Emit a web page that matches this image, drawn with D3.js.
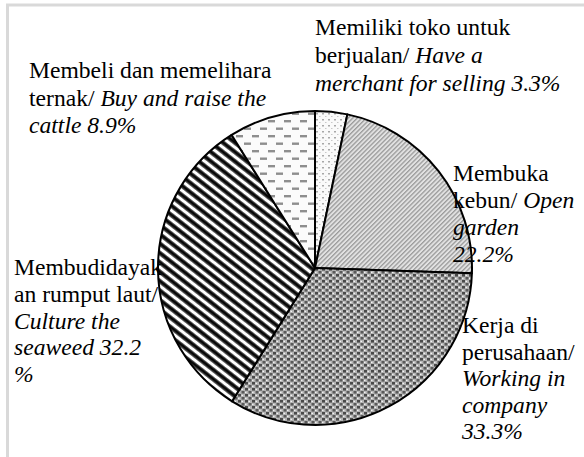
<!DOCTYPE html>
<html>
<head>
<meta charset="utf-8">
<script src="https://cdn.jsdelivr.net/npm/d3@7/dist/d3.min.js"></script>
<style>
  body { margin: 0; background: #fff; }
  svg { display: block; }
</style>
</head>
<body>
<script>
// slices clockwise from 12 o'clock
const categories = ["toko", "kebun", "kerja", "rumput", "ternak"];
const values = [3.3, 22.2, 33.3, 32.2, 8.9];
// label lines: [normal part, italic part]
const labelToko = [["Memiliki toko untuk", ""], ["berjualan/ ", "Have a"], ["", "merchant for selling 3.3%"]];
const labelKebun = [["Membuka", ""], ["kebun/ ", "Open"], ["", "garden"], ["", "22.2%"]];
const labelKerja = [["Kerja di", ""], ["perusahaan/", ""], ["", "Working in"], ["", "company"], ["", "33.3%"]];
const labelRumput = [["Membudidayak", ""], ["an rumput laut/", ""], ["", "Culture the"], ["", "seaweed 32.2"], ["", "%"]];
const labelTernak = [["Membeli dan memelihara", ""], ["ternak/ ", "Buy and raise the"], ["", "cattle 8.9%"]];

const width = 584, height = 457;
const cx = 315, cy = 268, radius = 157;
const serif = "'Liberation Serif', 'Times New Roman', Times, serif";

const svg = d3.select("body").append("svg")
    .attr("width", width)
    .attr("height", height);

svg.append("rect").attr("width", width).attr("height", height).attr("fill", "#fff");

// faint frame on top and left
svg.append("line").attr("x1", 6).attr("y1", 5).attr("x2", width).attr("y2", 5)
    .attr("stroke", "#d9d9d9").attr("stroke-width", 3);
svg.append("line").attr("x1", 7.5).attr("y1", 5).attr("x2", 7.5).attr("y2", height)
    .attr("stroke", "#d9d9d9").attr("stroke-width", 3);

const defs = svg.append("defs");

// dotted (toko)
let p = defs.append("pattern").attr("id", "p-toko").attr("patternUnits", "userSpaceOnUse")
    .attr("width", 6).attr("height", 6);
p.append("rect").attr("width", 6).attr("height", 6).attr("fill", "#fafafa");
p.append("rect").attr("x", 1).attr("y", 1).attr("width", 2).attr("height", 1.5).attr("fill", "#a8a8a8");
p.append("rect").attr("x", 4).attr("y", 4).attr("width", 1.5).attr("height", 1).attr("fill", "#c8c8c8");

// fine diagonal (kebun)
p = defs.append("pattern").attr("id", "p-kebun").attr("patternUnits", "userSpaceOnUse")
    .attr("width", 3.2).attr("height", 10).attr("patternTransform", "rotate(45)");
p.append("rect").attr("width", 3.2).attr("height", 10).attr("fill", "#e2e2e2");
p.append("rect").attr("width", 1.3).attr("height", 10).attr("fill", "#9a9a9a");

// dense dither (kerja)
p = defs.append("pattern").attr("id", "p-kerja").attr("patternUnits", "userSpaceOnUse")
    .attr("width", 7).attr("height", 6);
p.append("rect").attr("width", 7).attr("height", 6).attr("fill", "#b4b4b4");
p.append("rect").attr("x", 0).attr("y", 0).attr("width", 3).attr("height", 2.6).attr("fill", "#4a4a4a");
p.append("rect").attr("x", 3.5).attr("y", 3).attr("width", 3).attr("height", 2.6).attr("fill", "#5a5a5a");
p.append("rect").attr("x", 3.5).attr("y", 0.8).attr("width", 1.5).attr("height", 1.2).attr("fill", "#f2f2f2");
p.append("rect").attr("x", 0).attr("y", 3.8).attr("width", 1.5).attr("height", 1.2).attr("fill", "#f2f2f2");

// bold diagonal stripes (rumput)
p = defs.append("pattern").attr("id", "p-rumput").attr("patternUnits", "userSpaceOnUse")
    .attr("width", 20).attr("height", 7.4).attr("patternTransform", "rotate(38)");
p.append("rect").attr("width", 20).attr("height", 7.4).attr("fill", "#fff");
p.append("rect").attr("y", 0).attr("width", 20).attr("height", 1).attr("fill", "#555");
p.append("rect").attr("y", 1).attr("width", 20).attr("height", 2.6).attr("fill", "#000");
p.append("rect").attr("y", 3.6).attr("width", 20).attr("height", 1).attr("fill", "#555");

// dashes (ternak)
p = defs.append("pattern").attr("id", "p-ternak").attr("patternUnits", "userSpaceOnUse")
    .attr("width", 16).attr("height", 15);
p.append("rect").attr("width", 16).attr("height", 15).attr("fill", "#fbfbfb");
p.append("rect").attr("x", 1).attr("y", 2).attr("width", 7).attr("height", 2.4).attr("fill", "#8e8e8e");
p.append("rect").attr("x", 9).attr("y", 9.5).attr("width", 7).attr("height", 2.4).attr("fill", "#8e8e8e");

const pie = d3.pie().sort(null).value(d => d.value);
const arc = d3.arc().innerRadius(0).outerRadius(radius);

const slices = categories.map((c, i) => ({ cat: c, value: values[i] }));

const g = svg.append("g").attr("transform", `translate(${cx},${cy})`);

g.selectAll("path.slice")
    .data(pie(slices))
    .enter().append("path")
    .attr("class", "slice")
    .attr("d", arc)
    .attr("fill", d => `url(#p-${d.data.cat})`)
    .attr("stroke", "#000")
    .attr("stroke-width", 2)
    .attr("stroke-linejoin", "round");

// labels
const labels = [
  { lines: labelToko, x: 315, y: 35, lh: 28 },
  { lines: labelTernak, x: 29, y: 78, lh: 27.5 },
  { lines: labelKebun, x: 453, y: 181, lh: 27 },
  { lines: labelRumput, x: 14, y: 275, lh: 26.8 },
  { lines: labelKerja, x: 462, y: 333, lh: 26.6 }
];

labels.forEach(l => {
  const t = svg.append("text")
      .attr("x", l.x).attr("y", l.y)
      .attr("font-family", serif)
      .attr("font-size", 23.6)
      .attr("fill", "#000");
  l.lines.forEach((ln, i) => {
    let first = true;
    if (ln[0]) {
      t.append("tspan").attr("x", l.x).attr("y", l.y + i * l.lh).text(ln[0]).style("white-space", "pre");
      first = false;
    }
    if (ln[1]) {
      const s = t.append("tspan").attr("font-style", "italic").text(ln[1]);
      if (first) s.attr("x", l.x).attr("y", l.y + i * l.lh);
    }
  });
});
</script>
</body>
</html>
